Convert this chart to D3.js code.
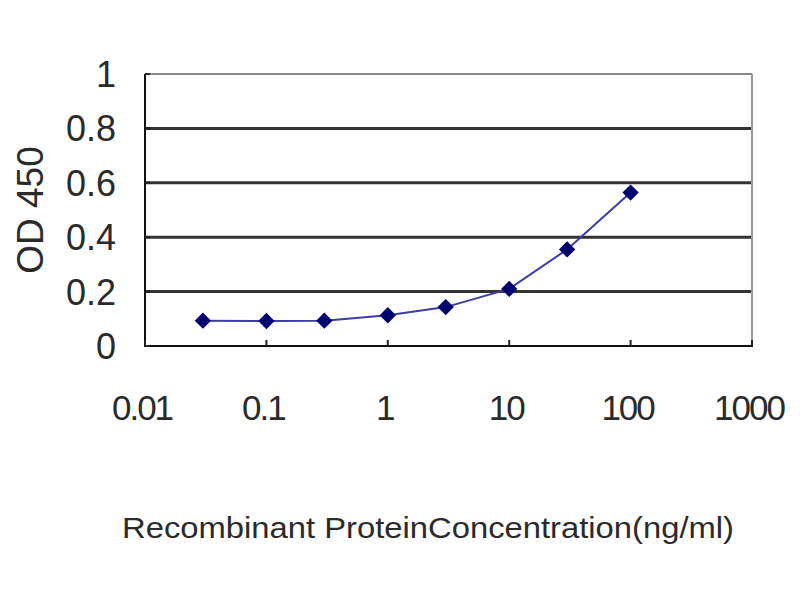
<!DOCTYPE html>
<meta charset="utf-8">
<style>
  body { margin: 0; background: #fff; }
  text { font-family: "Liberation Sans", Arial, sans-serif; fill: #2a2a2a; }
</style>
<body>
<script src="https://cdn.jsdelivr.net/npm/d3@7"></script>
<script>

var concentrations = [0.03, 0.1, 0.3, 1, 3, 10, 30, 100];
var odValues = [0.093, 0.092, 0.093, 0.113, 0.143, 0.21, 0.355, 0.564];
var xTicks = [0.01, 0.1, 1, 10, 100, 1000];
var xTickLabels = ["0.01", "0.1", "1", "10", "100", "1000"];
var yTicks = [0, 0.2, 0.4, 0.6, 0.8, 1];
var yTickLabels = ["0", "0.2", "0.4", "0.6", "0.8", "1"];

var width = 800, height = 600;
// note: "top" is taken by window.top, so plot edges get their own names
var plotLeft = 145, plotRight = 752, plotTop = 74, plotBottom = 346;

var svg = d3.select("body").append("svg")
            .attr("width", width)
            .attr("height", height);

var x = d3.scaleLog().domain([0.01, 1000]).range([plotLeft, plotRight]);
var y = d3.scaleLinear().domain([0, 1]).range([plotBottom, plotTop]);

// gridlines
svg.selectAll("line.grid")
   .data(yTicks.slice(1, 5))
   .enter().append("line")
   .attr("class", "grid")
   .attr("x1", plotLeft).attr("x2", plotRight)
   .attr("y1", function(d){ return y(d); })
   .attr("y2", function(d){ return y(d); })
   .attr("stroke", "#333")
   .attr("stroke-width", 3);

// top and right frame
svg.append("line")
   .attr("x1", plotLeft).attr("x2", plotRight)
   .attr("y1", y(1)).attr("y2", y(1))
   .attr("stroke", "#888").attr("stroke-width", 2);
svg.append("line")
   .attr("x1", plotRight).attr("x2", plotRight)
   .attr("y1", plotTop).attr("y2", plotBottom)
   .attr("stroke", "#999").attr("stroke-width", 2);

// axis lines
svg.append("line")
   .attr("x1", plotLeft).attr("x2", plotLeft)
   .attr("y1", plotTop).attr("y2", plotBottom + 1)
   .attr("stroke", "#111").attr("stroke-width", 2);
svg.append("line")
   .attr("x1", plotLeft).attr("x2", plotRight + 1)
   .attr("y1", plotBottom).attr("y2", plotBottom)
   .attr("stroke", "#111").attr("stroke-width", 2);

// x ticks (inside)
svg.selectAll("line.xtick")
   .data(xTicks)
   .enter().append("line")
   .attr("class", "xtick")
   .attr("x1", function(d){ return x(d); })
   .attr("x2", function(d){ return x(d); })
   .attr("y1", plotBottom).attr("y2", plotBottom - 6)
   .attr("stroke", "#222").attr("stroke-width", 2);

// y ticks (inside)
svg.selectAll("line.ytick")
   .data(yTicks)
   .enter().append("line")
   .attr("class", "ytick")
   .attr("x1", plotLeft).attr("x2", plotLeft + 5)
   .attr("y1", function(d){ return y(d); })
   .attr("y2", function(d){ return y(d); })
   .attr("stroke", "#222").attr("stroke-width", 2);

// tick labels
svg.selectAll("text.xlabel")
   .data(xTicks)
   .enter().append("text")
   .attr("class", "xlabel")
   .attr("x", function(d){ return x(d) - 3; })
   .attr("y", 420)
   .attr("text-anchor", "middle")
   .style("font-size", "35px")
   .style("letter-spacing", "-2px")
   .text(function(d, i){ return xTickLabels[i]; });

svg.selectAll("text.ylabel")
   .data(yTicks)
   .enter().append("text")
   .attr("class", "ylabel")
   .attr("x", 116)
   .attr("y", function(d){ return y(d) + 13; })
   .attr("text-anchor", "end")
   .style("font-size", "36px")
   .text(function(d, i){ return yTickLabels[i]; });

// axis titles
svg.append("text")
   .attr("x", 122)
   .attr("y", 538)
   .attr("textLength", 612)
   .attr("lengthAdjust", "spacingAndGlyphs")
   .style("font-size", "30px")
   .text("Recombinant ProteinConcentration(ng/ml)");

svg.append("text")
   .attr("transform", "translate(43,210) rotate(-90)")
   .attr("text-anchor", "middle")
   .style("font-size", "37px")
   .text("OD 450");

// series line
var line = d3.line()
  .x(function(d, i){ return x(concentrations[i]); })
  .y(function(d){ return y(d); });

svg.append("path")
   .datum(odValues)
   .attr("d", line)
   .attr("fill", "none")
   .attr("stroke", "#3c3ca8")
   .attr("stroke-width", 2);

// diamond markers
svg.selectAll("path.marker")
   .data(odValues)
   .enter().append("path")
   .attr("class", "marker")
   .attr("d", d3.symbol().type(d3.symbolDiamond2).size(170))
   .attr("transform", function(d, i){
      return "translate(" + x(concentrations[i]) + "," + y(d) + ")";
   })
   .attr("fill", "#00006e");

</script>
</body>
